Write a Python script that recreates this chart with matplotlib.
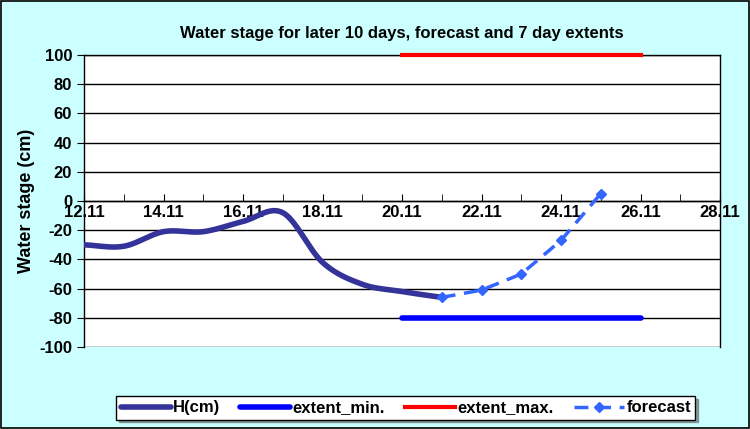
import numpy as np
import matplotlib
matplotlib.use("Agg")
import matplotlib.pyplot as plt
from matplotlib.patches import Rectangle

plt.rcParams['font.family'] = ['Liberation Sans', 'DejaVu Sans']
plt.rcParams['font.weight'] = 'bold'
plt.rcParams['axes.unicode_minus'] = False

# ---------------- data ----------------
h_days = [12, 13, 14, 15, 16, 17, 18, 19, 20, 21]
h_vals = [-30, -31, -21, -21, -14, -8, -42, -57, -62, -66]

fc_days = [21, 22, 23, 24, 25]
fc_vals = [-66, -61, -50, -27, 5]

ext_days = [20, 26]
ext_min = [-80, -80]
ext_max = [100, 100]

tick_days = [12, 14, 16, 18, 20, 22, 24, 26, 28]
tick_labels = ["12.11", "14.11", "16.11", "18.11", "20.11", "22.11", "24.11", "26.11", "28.11"]


def smooth(x, y, n=20):
    # catmull-rom style smoothing, like excel's smoothed line
    x = np.asarray(x, float)
    y = np.asarray(y, float)
    px = np.concatenate([[2 * x[0] - x[1]], x, [2 * x[-1] - x[-2]]])
    py = np.concatenate([[2 * y[0] - y[1]], y, [2 * y[-1] - y[-2]]])
    xs, ys = [], []
    for i in range(1, len(px) - 2):
        t = np.linspace(0, 1, n, endpoint=False)
        for arr, out in ((px, xs), (py, ys)):
            p0, p1, p2, p3 = arr[i - 1], arr[i], arr[i + 1], arr[i + 2]
            out.extend(0.5 * (2 * p1 + (-p0 + p2) * t + (2 * p0 - 5 * p1 + 4 * p2 - p3) * t ** 2
                              + (-p0 + 3 * p1 - 3 * p2 + p3) * t ** 3))
    xs.append(x[-1])
    ys.append(y[-1])
    return np.array(xs), np.array(ys)


fig = plt.figure(figsize=(7.5, 4.29), dpi=100, facecolor='#ccffff')
fig.patches.append(Rectangle((0.001, 0.002), 0.997, 0.996, transform=fig.transFigure,
                             fill=False, edgecolor='black', linewidth=1.2))

ax = fig.add_axes([0.112, 0.191, 0.848, 0.681])
ax.set_facecolor('white')

sx, sy = smooth(h_days, h_vals)
ax.plot(sx, sy, color='#333399', linewidth=4, solid_capstyle='round', label='H(cm)', zorder=3)
ax.plot(ext_days, ext_min, color='#0000ff', linewidth=4, solid_capstyle='round', label='extent_min.', zorder=3)
ax.plot(ext_days, ext_max, color='#ff0000', linewidth=3, label='extent_max.', zorder=3, clip_on=False)
ax.plot(fc_days, fc_vals, color='#3366ff', linewidth=2.5, linestyle=(0, (4, 2.5)),
        marker='D', markersize=5, label='forecast', zorder=4)

ax.set_xlim(12, 28)
ax.set_ylim(-100, 100)
ax.set_yticks(np.arange(-100, 101, 20))
ax.yaxis.grid(True, color='black', linewidth=1)
ax.set_axisbelow(True)

ax.spines['bottom'].set_position(('data', 0))
ax.set_xticks(tick_days)
ax.set_xticklabels(tick_labels)
ax.set_xticks(np.arange(12, 29, 1), minor=True)
ax.tick_params(axis='x', which='both', direction='in', length=5, labelsize=12, pad=3)
ax.tick_params(axis='y', direction='out', length=5, labelsize=12)
for sp in ax.spines.values():
    sp.set_linewidth(1)
ax.set_ylabel('Water stage (cm)', fontsize=13, fontweight='bold', labelpad=3)
ax.set_title('Water stage for later 10 days, forecast and 7 day extents',
             fontsize=12, fontweight='bold', pad=12)

leg = fig.legend(loc='center', bbox_to_anchor=(0.541, 0.049), ncol=4, frameon=True,
                 fancybox=False, shadow=True, edgecolor='black', fontsize=12,
                 handlelength=3.0, handletextpad=0.15, columnspacing=1.2,
                 borderpad=0.25)
leg.get_frame().set_linewidth(1)

fig.savefig('out.png', dpi=100, facecolor=fig.get_facecolor())
